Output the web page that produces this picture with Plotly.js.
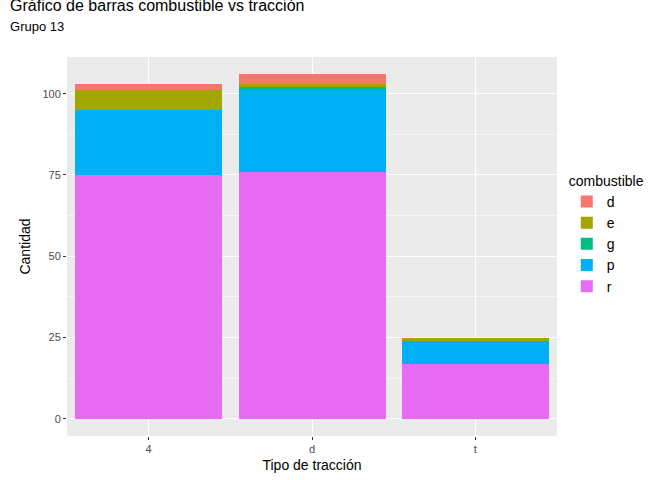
<!DOCTYPE html>
<html>
<head>
<meta charset="utf-8">
<script src="https://cdn.plot.ly/plotly-3.0.1.min.js"></script>
<style>body{margin:0}#chart{width:672px;height:480px}</style>
</head>
<body>
<div id="chart"></div>
<script>
var traccion = ["4", "d", "t"];
var combustibles = ["r", "p", "g", "e", "d"];
var colores = {d: "#F8766D", e: "#A3A500", g: "#00BF7D", p: "#00B0F6", r: "#E76BF3"};
var valores = {
        r: [75, 76, 17],
        p: [20, 25, 7],
        g: [0, 1, 0],
        e: [6, 1, 1],
        d: [2, 3, 0]
};

var data = [];
for (var i = 0; i < combustibles.length; i++)
{
        var c = combustibles[i];
        data.push({
                type: "bar",
                name: c,
                x: traccion,
                y: valores[c],
                marker: {color: colores[c]},
                hoverinfo: "x+y+name"
        });
}

var layout = {
        barmode: "stack",
        bargap: 0.1,
        paper_bgcolor: "white",
        plot_bgcolor: "#EBEBEB",
        font: {family: "Liberation Sans, Arial, sans-serif", size: 11, color: "#4D4D4D"},
        margin: {l: 67, r: 115, t: 57, b: 44},
        title: {text: "Gráfico de barras combustible vs tracción<br><span style='font-size:13px'>Grupo 13</span>",
                x: 0.015, xanchor: "left", y: 0.978, yanchor: "top", font: {size: 16, color: "black"}},
        xaxis: {type: "category", title: {text: "Tipo de tracción", font: {size: 14, color: "black"}, standoff: 5},
                gridcolor: "white", ticks: "outside", ticklen: 3, tickcolor: "#333", showline: false, zeroline: false},
        yaxis: {title: {text: "Cantidad", font: {size: 14, color: "black"}, standoff: 8},
                range: [-5.3, 111.3], tickvals: [0, 25, 50, 75, 100], gridcolor: "white",
                ticks: "outside", ticklen: 3, tickcolor: "#333", zeroline: false,
                minor: {tickvals: [12.5, 37.5, 62.5, 87.5], gridcolor: "#F5F5F5", showgrid: true}},
        legend: {x: 1.02, y: 0.53, yanchor: "middle", traceorder: "reversed",
                title: {text: "combustible", font: {size: 14, color: "black"}}, font: {size: 14, color: "black"}},
        showlegend: true
};

Plotly.newPlot("chart", data, layout, {displayModeBar: false});
</script>
</body>
</html>
